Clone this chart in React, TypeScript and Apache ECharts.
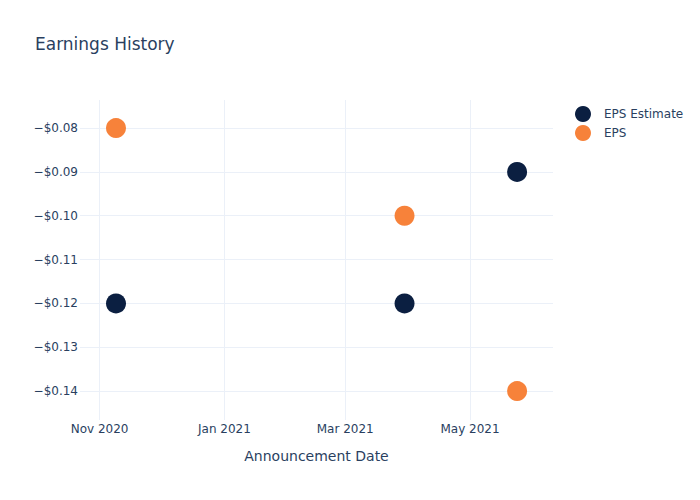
import React, { useEffect, useRef } from "react";
import * as echarts from "echarts";

const announcementDates = ["2020-11-09", "2021-03-30", "2021-05-24"];
const epsEstimate = [-0.12, -0.12, -0.09];
const epsActual = [-0.08, -0.1, -0.14];
const yTicks = [-0.14, -0.13, -0.12, -0.11, -0.1, -0.09, -0.08];
const xTickDates = ["2020-11-01", "2021-01-01", "2021-03-01", "2021-05-01"];
const monthNames = ["Jan", "Feb", "Mar", "Apr", "May", "Jun", "Jul", "Aug", "Sep", "Oct", "Nov", "Dec"];

const FONT = "DejaVu Sans, Verdana, sans-serif";
const TEXT = "#2a3f5f";
const GRID = "#ebf0f8";

const ts = (d: string) => Date.parse(d + "T00:00:00Z");

export default function App() {
  const ref = useRef<HTMLDivElement>(null);
  useEffect(() => {
    if (!ref.current) return;
    document.body.style.margin = "0";
    const chart = echarts.init(ref.current, undefined, { renderer: "svg" });
    const xMin = ts("2020-10-22") + 10 * 3600 * 1000;
    const xMax = ts("2021-06-10") + 13 * 3600 * 1000;
    chart.setOption({
      animation: false,
      backgroundColor: "#fff",
      textStyle: { fontFamily: FONT },
      title: {
        text: "Earnings History",
        left: 35,
        top: 35,
        padding: 0,
        textStyle: { fontFamily: FONT, fontSize: 17, fontWeight: "normal", color: TEXT },
      },
      legend: {
        orient: "vertical",
        left: 575,
        top: 106,
        padding: 0,
        itemWidth: 16,
        itemHeight: 16,
        itemGap: 3,
        icon: "circle",
        textStyle: { fontFamily: FONT, fontSize: 12, color: TEXT, padding: [0, 0, 0, 8] },
        data: ["EPS Estimate", "EPS"],
      },
      grid: { left: 80, right: 147, top: 100, bottom: 80, containLabel: false },
      xAxis: {
        type: "value",
        min: xMin,
        max: xMax,
        name: "Announcement Date",
        nameLocation: "middle",
        nameGap: 29,
        nameTextStyle: { fontFamily: FONT, fontSize: 14, color: TEXT },
        axisLine: { show: false },
        axisTick: { show: false, customValues: xTickDates.map(ts) },
        splitLine: { show: true, lineStyle: { color: GRID, width: 1 } },
        axisLabel: {
          customValues: xTickDates.map(ts),
          fontFamily: FONT,
          fontSize: 12,
          color: TEXT,
          margin: 3,
          formatter: (v: number) => {
            const d = new Date(v);
            return monthNames[d.getUTCMonth()] + " " + d.getUTCFullYear();
          },
        },
      },
      yAxis: {
        type: "value",
        min: -0.1466,
        max: -0.0736,
        axisLine: { show: false },
        axisTick: { show: false, customValues: yTicks },
        splitLine: { show: true, lineStyle: { color: GRID, width: 1 } },
        axisLabel: {
          customValues: yTicks,
          fontFamily: FONT,
          fontSize: 12,
          color: TEXT,
          margin: 2,
          formatter: (v: number) => "\u2212$" + Math.abs(v).toFixed(2),
        },
      },
      series: [
        {
          name: "EPS Estimate",
          type: "scatter",
          symbol: "circle",
          symbolSize: 20,
          itemStyle: { color: "#0b1f41", opacity: 1 },
          data: announcementDates.map((d, i) => [ts(d), epsEstimate[i]]),
        },
        {
          name: "EPS",
          type: "scatter",
          symbol: "circle",
          symbolSize: 20,
          itemStyle: { color: "#f7823a", opacity: 1 },
          data: announcementDates.map((d, i) => [ts(d), epsActual[i]]),
        },
      ],
    });
    return () => chart.dispose();
  }, []);
  return <div ref={ref} style={{ width: 700, height: 500 }} />;
}
